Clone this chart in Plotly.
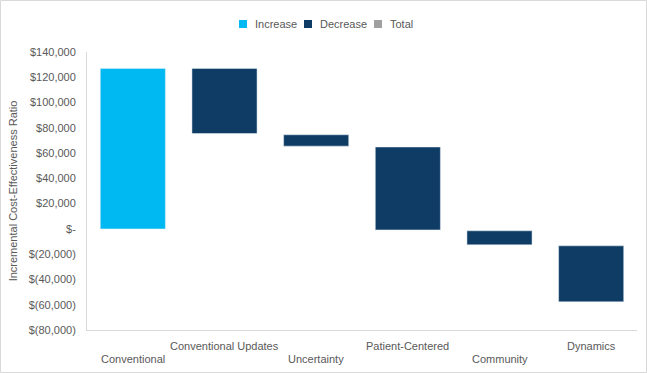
import plotly.graph_objects as go

categories = ["Conventional", "Conventional Updates", "Uncertainty",
              "Patient-Centered", "Community", "Dynamics"]
bar_start = [0, 127000, 74500, 64800, -1500, -13400]
bar_end = [127000, 75500, 65500, -800, -12600, -57700]
label_row = [1, 0, 1, 0, 1, 0]  # staggered axis labels (1 = lower row)

legend_names = ["Increase", "Decrease", "Total"]

y_tickvals = [140000, 120000, 100000, 80000, 60000, 40000, 20000, 0,
              -20000, -40000, -60000, -80000]
y_ticktext = ["$140,000", "$120,000", "$100,000", "$80,000", "$60,000",
              "$40,000", "$20,000", "$-", "$(20,000)", "$(40,000)",
              "$(60,000)", "$(80,000)"]

C_INC = "#00B9F2"
C_DEC = "#0F3C64"
C_TOT = "#A0A0A0"
legend_colors = [C_INC, C_DEC, C_TOT]
TXT = "#595959"
FONT = "Liberation Sans, Arial, sans-serif"

delta = [e - s for s, e in zip(bar_start, bar_end)]
inc_y = [d if d > 0 else None for d in delta]
dec_y = [d if d < 0 else None for d in delta]

fig = go.Figure()
fig.add_trace(go.Bar(x=categories, y=inc_y, base=bar_start, marker_color=C_INC,
                     showlegend=False, name="Increase"))
fig.add_trace(go.Bar(x=categories, y=dec_y, base=bar_start, marker_color=C_DEC,
                     showlegend=False, name="Decrease"))
fig.add_trace(go.Bar(x=[None], y=[None], marker_color=C_TOT,
                     showlegend=False, name="Total"))

W, H = 647, 373
ML, MR, MT, MB = 87, 10, 52, 43
pw, ph = W - ML - MR, H - MT - MB


def px_x(p):
    return (p - ML) / pw


def px_y(p):
    return (H - MB - p) / ph


shapes = [dict(type="rect", xref="paper", yref="paper",
               x0=px_x(0.5), x1=px_x(W - 0.5), y0=px_y(H - 0.5), y1=px_y(0.5),
               line=dict(color="#D9D9D9", width=1), layer="below")]
annotations = []
leg_sq_x = [239, 304, 374]
for nm, col, sx in zip(legend_names, legend_colors, leg_sq_x):
    shapes.append(dict(type="rect", xref="paper", yref="paper",
                       x0=px_x(sx), x1=px_x(sx + 8), y0=px_y(28), y1=px_y(20),
                       fillcolor=col, line=dict(width=0)))
    annotations.append(dict(xref="paper", yref="paper", x=px_x(sx + 13.5),
                            y=px_y(24), xanchor="left", yanchor="middle",
                            text=nm, showarrow=False,
                            font=dict(size=11, color=TXT, family=FONT)))

# staggered category labels under the axis
row_y = {0: 346, 1: 359}
for c, r in zip(categories, label_row):
    annotations.append(dict(xref="x", yref="paper", x=c, y=px_y(row_y[r]),
                            xanchor="center", yanchor="middle", text=c,
                            showarrow=False,
                            font=dict(size=11, color=TXT, family=FONT)))

fig.update_layout(
    width=W, height=H,
    margin=dict(l=ML, r=MR, t=MT, b=MB, autoexpand=False),
    paper_bgcolor="white", plot_bgcolor="white",
    barmode="overlay", bargap=0.29,
    font=dict(family=FONT, size=11, color=TXT),
    showlegend=False,
    xaxis=dict(categoryorder="array", categoryarray=categories,
               showticklabels=False, showline=True,
               linecolor="#D9D9D9", linewidth=1, showgrid=False, ticks="",
               automargin=False),
    yaxis=dict(range=[-80000, 140000], tickvals=y_tickvals, ticktext=y_ticktext,
               showline=True, linecolor="#D9D9D9", linewidth=1, showgrid=False,
               zeroline=False, ticks="", ticklabelstandoff=8, automargin=False,
               tickfont=dict(size=11, color=TXT),
               title=dict(text="Incremental Cost-Effectiveness Ratio",
                          font=dict(size=11, color=TXT), standoff=8)),
    shapes=shapes,
    annotations=annotations,
)

fig.write_html("out.html", config={"displayModeBar": False},
               post_script="document.body.style.margin='0';")
